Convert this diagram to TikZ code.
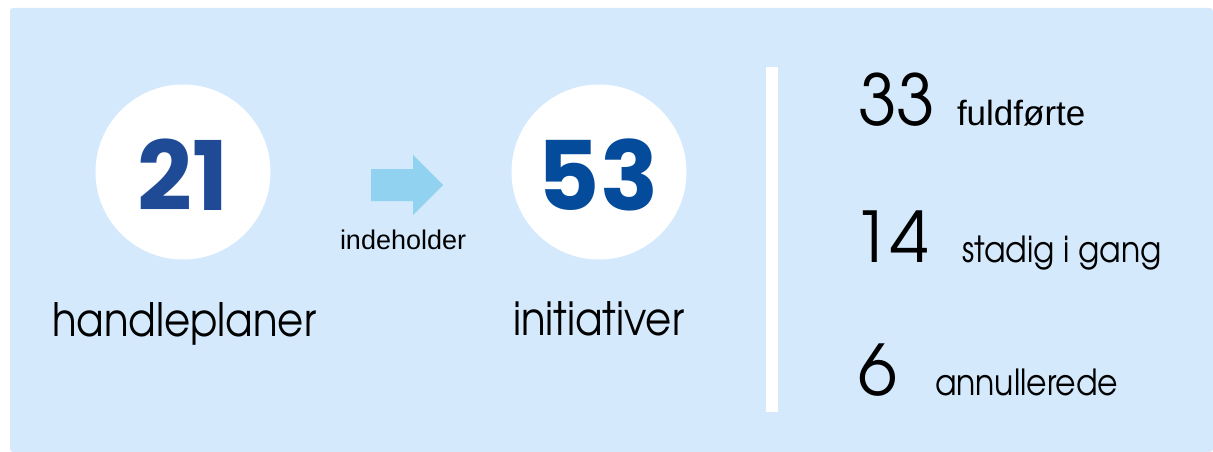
\documentclass[tikz,border=0pt]{standalone}
\usepackage{fontspec}
\setmainfont{Liberation Sans}
\newfontfamily\adv{texgyreadventor-regular.otf}
\newfontfamily\advn{texgyreadventor-regular.otf}[FakeStretch=0.875]
\newfontfamily\bnum{Poppins}[BoldFont={Poppins Bold}]
\definecolor{bgblue}{RGB}{212,233,252}
\definecolor{arrowblue}{RGB}{146,210,241}
\definecolor{numblueA}{RGB}{31,75,150}
\definecolor{numblueB}{RGB}{5,75,155}
\begin{document}
\begin{tikzpicture}[x=1pt,y=-1pt,
  txt/.style={anchor=base west,inner sep=0pt,outer sep=0pt},
  bigcirc/.style={circle,fill=white,minimum size=175pt,inner sep=0pt},
  bignum/.style={font=\bnum\bfseries\fontsize{96}{96}\selectfont,inner sep=0pt},
  statnum/.style={txt,font=\adv\fontsize{70}{70}\selectfont,text=black},
  stattxt/.style={txt,font=\fontsize{35}{35}\selectfont,text=black},
  labtxt/.style={txt,font=\advn\fontsize{46}{46}\selectfont,text=black},
  subtxt/.style={txt,font=\advn\fontsize{36}{36}\selectfont,text=black}]
\useasboundingbox (0,0) rectangle (1213,452);
\fill[bgblue,rounded corners=3pt] (10,8) rectangle (1213,452);
% circles
\node[bigcirc] (c1) at (183,172) {};
\node[bigcirc] (c2) at (599,172) {};
\node[bignum,text=numblueA] (n1) at (183,175) {21};
\node[bignum,text=numblueB] (n2) at (598,175) {53};
% arrow
\fill[arrowblue] (371,169) -- (413,169) -- (413,155) -- (443,185) -- (413,215) -- (413,201) -- (371,201) -- cycle;
\node[txt,font=\fontsize{27}{27}\selectfont] (ind) at (340,249) {indeholder};
% labels
\node[labtxt] (hp) at (52,336) {handleplaner};
\node[labtxt] (in) at (513,335) {initiativer};
% divider
\fill[white] (766,67) rectangle (778,412);
% stats
\node[statnum] (s1) at (858,125) {33};
\node[stattxt] (t1) at (957,125) {fuldførte};
\node[statnum] (s2) at (852,262) {14};
\node[subtxt] (t2) at (962,262) {stadig i gang};
\node[statnum] (s3) at (858,395) {6};
\node[subtxt] (t3) at (935,395) {annullerede};
\end{tikzpicture}
\end{document}
